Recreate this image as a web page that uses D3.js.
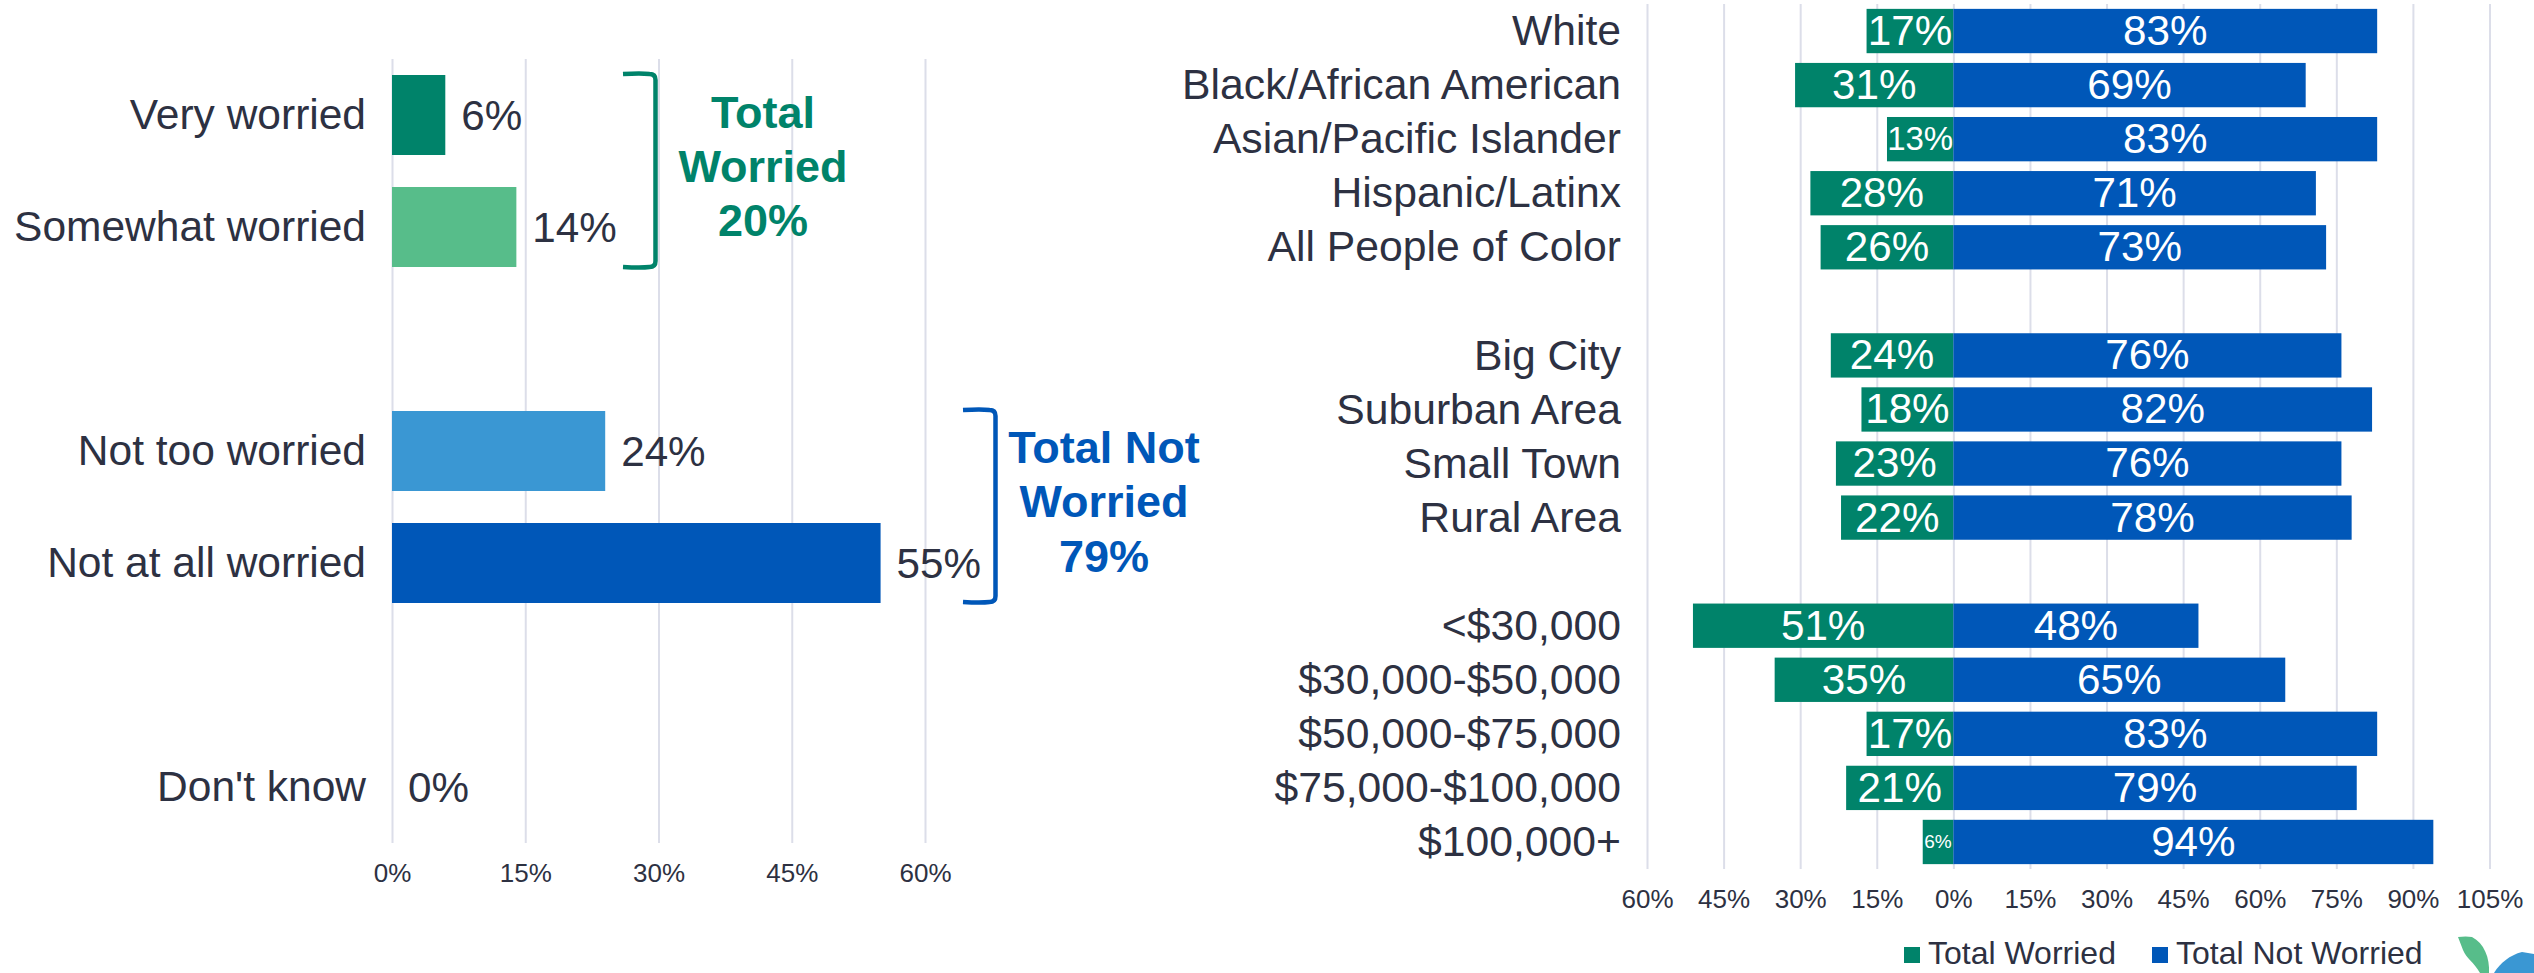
<!DOCTYPE html>
<html>
<head>
<meta charset="utf-8">
<script src="https://cdn.jsdelivr.net/npm/d3@7"></script>
<style>
html,body{margin:0;padding:0;background:#fff;overflow:hidden}
svg{display:block}
text{font-family:"Liberation Sans",Arial,sans-serif}
</style>
</head>
<body>
<svg id="c" width="2534" height="973"></svg>
<script>
// ---------- data ----------
const levelLabels = ["Very worried","Somewhat worried","","Not too worried","Not at all worried","","Don't know"];
const levelValues = [6,14,null,24,55,null,0];
const leftTicks = [0,15,30,45,60];

const groupLabels = ["White","Black/African American","Asian/Pacific Islander","Hispanic/Latinx","All People of Color","",
  "Big City","Suburban Area","Small Town","Rural Area","",
  "<$30,000","$30,000-$50,000","$50,000-$75,000","$75,000-$100,000","$100,000+"];
const totalWorried    = [17,31,13,28,26,null,24,18,23,22,null,51,35,17,21,6];
const totalNotWorried = [83,69,83,71,73,null,76,82,76,78,null,48,65,83,79,94];
const rightTicks = [-60,-45,-30,-15,0,15,30,45,60,75,90,105];
const legendLabels = ["Total Worried","Total Not Worried"];
const calloutWorried = ["Total","Worried","20%"];
const calloutNotWorried = ["Total Not","Worried","79%"];

// ---------- style ----------
const DARKGREEN="#00836a", LIGHTGREEN="#57bd8a", LIGHTBLUE="#3a97d3", BLUE="#0057b8";
const INK="#2d3142", GRID="#dcdee9";
const levelColors=[DARKGREEN,LIGHTGREEN,null,LIGHTBLUE,BLUE,null,BLUE];

const svg=d3.select("#c");
const pct=d=>Math.abs(d)+"%";

function styleGridAxis(g,tickY,size){
  g.select(".domain").remove();
  g.selectAll(".tick line").attr("stroke",GRID).attr("stroke-width",2);
  g.selectAll(".tick text").attr("y",tickY).attr("dy",0).attr("fill",INK).style("font-size",size+"px");
}
function styleCatAxis(g,x,size){
  g.select(".domain").remove();
  g.selectAll(".tick line").remove();
  g.selectAll(".tick text").attr("x",x).attr("dy","0.33em").attr("fill",INK)
    .style("font-size",size+"px").attr("text-anchor","end");
}

// ---------- left chart ----------
const lx=d3.scaleLinear().domain([0,60]).range([392,925]);
const ly=d3.scaleBand().domain(d3.range(levelLabels.length)).range([59,843]).paddingInner(0.2857).paddingOuter(0.1429);
const lg=svg.append("g");
lg.append("g").attr("transform","translate(0,843)")
  .call(d3.axisBottom(lx).tickValues(leftTicks).tickFormat(pct).tickSize(-784))
  .call(g=>styleGridAxis(g,39,26));
lg.append("g").attr("transform","translate(392,0)")
  .call(d3.axisLeft(ly).tickFormat(i=>levelLabels[i]).tickSize(0))
  .call(g=>styleCatAxis(g,-26,42.5));
const lrows=levelValues.map((v,i)=>({v,i})).filter(d=>d.v!==null);
lg.selectAll("rect.bar").data(lrows).join("rect").attr("class","bar")
  .attr("x",lx(0)).attr("y",d=>ly(d.i)).attr("width",d=>lx(d.v)-lx(0)).attr("height",ly.bandwidth())
  .attr("fill",d=>levelColors[d.i]);
lg.selectAll("text.val").data(lrows).join("text").attr("class","val")
  .attr("x",d=>lx(d.v)+16).attr("y",d=>ly(d.i)+ly.bandwidth()/2).attr("dy","0.35em")
  .attr("fill",INK).style("font-size","42.2px").text(d=>d.v+"%");

// brackets + callouts
function bracket(x0,x1,y0,y1,color){
  const r=6;
  svg.append("path").attr("fill","none").attr("stroke",color).attr("stroke-width",4.5)
    .attr("d",`M${x0},${y0} Q${x1-r-8},${y0-1} ${x1-r},${y0} Q${x1},${y0} ${x1},${y0+r} L${x1},${y1-r} Q${x1},${y1} ${x1-r},${y1} Q${x1-r-8},${y1+1} ${x0},${y1}`);
}
function callout(lines,cx,ys,color){
  svg.append("g").selectAll("text").data(lines).join("text")
    .attr("x",cx).attr("y",(d,i)=>ys[i]).attr("text-anchor","middle")
    .attr("fill",color).style("font-size","45px").style("font-weight","700").text(d=>d);
}
bracket(623,655.5,74,267,DARKGREEN);
callout(calloutWorried,763,[128,182,236],DARKGREEN);
bracket(963,995.5,410,602,BLUE);
callout(calloutNotWorried,1104,[463,517,572],BLUE);

// ---------- right chart ----------
const rx=d3.scaleLinear().domain([-60,105]).range([1647,2489.5]);
const ry=d3.scaleBand().domain(d3.range(groupLabels.length)).range([4,869]).paddingInner(0.18).paddingOuter(0.09);
const rg=svg.append("g");
rg.append("g").attr("transform","translate(0,869)")
  .call(d3.axisBottom(rx).tickValues(rightTicks).tickFormat(pct).tickSize(-865))
  .call(g=>styleGridAxis(g,39,26));
rg.append("g").attr("transform","translate(1647,0)")
  .call(d3.axisLeft(ry).tickFormat(i=>groupLabels[i]).tickSize(0))
  .call(g=>styleCatAxis(g,-26,42.7));
const rrows=groupLabels.map((l,i)=>({i,w:totalWorried[i],n:totalNotWorried[i]})).filter(d=>d.w!==null);
rg.selectAll("rect.w").data(rrows).join("rect").attr("class","w")
  .attr("x",d=>rx(-d.w)).attr("y",d=>ry(d.i)).attr("width",d=>rx(0)-rx(-d.w)).attr("height",ry.bandwidth())
  .attr("fill",DARKGREEN);
rg.selectAll("rect.n").data(rrows).join("rect").attr("class","n")
  .attr("x",rx(0)).attr("y",d=>ry(d.i)).attr("width",d=>rx(d.n)-rx(0)).attr("height",ry.bandwidth())
  .attr("fill",BLUE);
const wSize=v=>v<=6?19:(v<=13?33:42.2);
rg.selectAll("text.wl").data(rrows).join("text").attr("class","wl")
  .attr("x",d=>rx(-d.w/2)).attr("y",d=>ry(d.i)+ry.bandwidth()/2).attr("dy","0.33em")
  .attr("text-anchor","middle").attr("fill","#fff").style("font-size",d=>wSize(d.w)+"px").text(d=>d.w+"%");
rg.selectAll("text.nl").data(rrows).join("text").attr("class","nl")
  .attr("x",d=>rx(d.n/2)).attr("y",d=>ry(d.i)+ry.bandwidth()/2).attr("dy","0.33em")
  .attr("text-anchor","middle").attr("fill","#fff").style("font-size","42.2px").text(d=>d.n+"%");

// ---------- legend ----------
const legendX=[1904,2152], legendColors=[DARKGREEN,BLUE];
const leg=svg.append("g").selectAll("g").data(legendLabels).join("g")
  .attr("transform",(d,i)=>`translate(${legendX[i]},947)`);
leg.append("rect").attr("width",16).attr("height",16).attr("fill",(d,i)=>legendColors[i]);
leg.append("text").attr("x",24).attr("y",17).attr("fill",INK).style("font-size","32px").text(d=>d);

// ---------- logo fragment, clipped by the page edge ----------
svg.append("path").attr("fill",LIGHTGREEN)
  .attr("d","M2458,937 Q2466,936 2472,937 C2484,943 2490,958 2489,973 L2480,973 C2474,962 2466,958 2463,950 Z");
svg.append("path").attr("fill",LIGHTBLUE)
  .attr("d","M2494,973 C2500,963 2510,955 2522,952 L2534,954 L2534,973 Z");
</script>
</body>
</html>
